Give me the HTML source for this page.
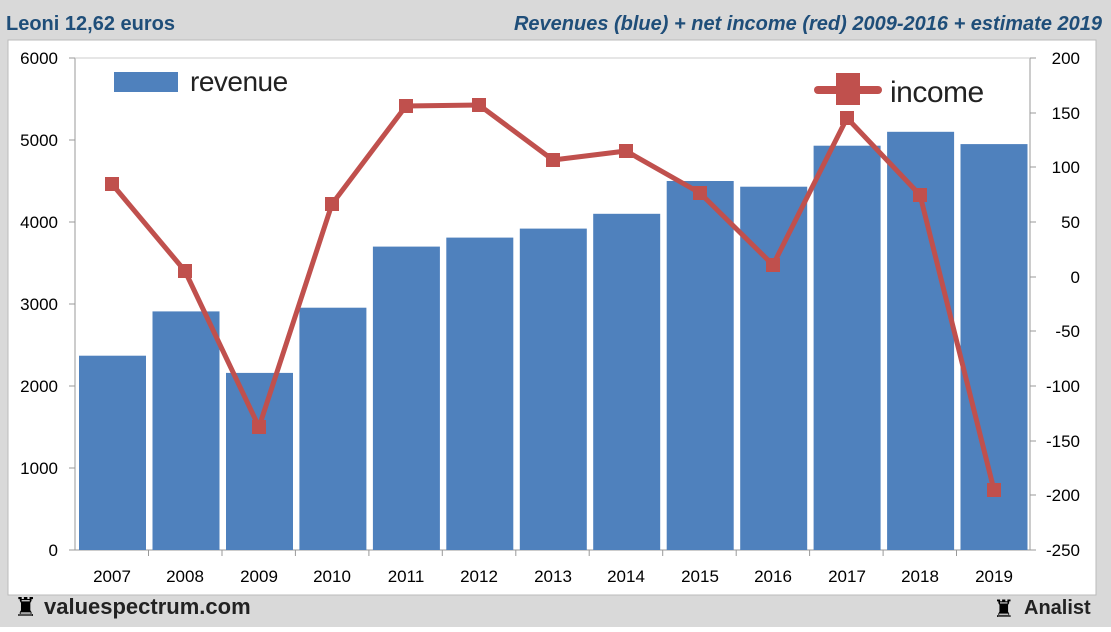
<!DOCTYPE html><html><head><style>body{margin:0;background:#fff}</style></head><body>
<svg width="1111" height="627" xmlns="http://www.w3.org/2000/svg" font-family="Liberation Sans, sans-serif">
<rect width="1111" height="627" fill="#d9d9d9"/>
<rect x="8" y="40" width="1088" height="555" fill="#fff" stroke="#bbb"/>
<text x="6" y="30" font-size="20" font-weight="bold" fill="#1f4e79">Leoni 12,62 euros</text>
<text x="1102" y="30" font-size="20" font-weight="bold" font-style="italic" fill="#1f4e79" text-anchor="end">Revenues (blue) + net income (red) 2009-2016 + estimate 2019</text>
<g stroke="#999" stroke-width="1">
<line x1="75" y1="58" x2="75" y2="550"/><line x1="1030" y1="58" x2="1030" y2="550"/><line x1="75" y1="550" x2="1030" y2="550"/>
<line x1="75" y1="58" x2="1030" y2="58" stroke="#ccc"/>
<line x1="69" y1="58" x2="75" y2="58"/><line x1="69" y1="140" x2="75" y2="140"/><line x1="69" y1="222" x2="75" y2="222"/><line x1="69" y1="304" x2="75" y2="304"/><line x1="69" y1="386" x2="75" y2="386"/><line x1="69" y1="468" x2="75" y2="468"/><line x1="69" y1="550" x2="75" y2="550"/>
<line x1="1030" y1="58" x2="1036" y2="58"/><line x1="1030" y1="113" x2="1036" y2="113"/><line x1="1030" y1="167" x2="1036" y2="167"/><line x1="1030" y1="222" x2="1036" y2="222"/><line x1="1030" y1="277" x2="1036" y2="277"/><line x1="1030" y1="331" x2="1036" y2="331"/><line x1="1030" y1="386" x2="1036" y2="386"/><line x1="1030" y1="441" x2="1036" y2="441"/><line x1="1030" y1="495" x2="1036" y2="495"/><line x1="1030" y1="550" x2="1036" y2="550"/>
</g>
<g font-size="17" fill="#000" text-anchor="end">
<text x="58" y="64">6000</text><text x="58" y="146">5000</text><text x="58" y="228">4000</text><text x="58" y="310">3000</text><text x="58" y="392">2000</text><text x="58" y="474">1000</text><text x="58" y="556">0</text>
</g>
<g font-size="17" fill="#000" text-anchor="end">
<text x="1080" y="64">200</text><text x="1080" y="119">150</text><text x="1080" y="173">100</text><text x="1080" y="228">50</text><text x="1080" y="283">0</text><text x="1080" y="337">-50</text><text x="1080" y="392">-100</text><text x="1080" y="447">-150</text><text x="1080" y="501">-200</text><text x="1080" y="556">-250</text>
</g>
<g fill="#4f81bd">
<rect x="79" y="355.7" width="67" height="194.3"/>
<rect x="152.5" y="311.4" width="67" height="238.6"/>
<rect x="226" y="372.9" width="67" height="177.1"/>
<rect x="299.4" y="307.7" width="67" height="242.3"/>
<rect x="372.9" y="246.6" width="67" height="303.4"/>
<rect x="446.3" y="237.6" width="67" height="312.4"/>
<rect x="519.8" y="228.6" width="67" height="321.4"/>
<rect x="593.2" y="213.8" width="67" height="336.2"/>
<rect x="666.7" y="181" width="67" height="369"/>
<rect x="740.2" y="186.7" width="67" height="363.3"/>
<rect x="813.6" y="145.7" width="67" height="404.3"/>
<rect x="887.1" y="131.8" width="67" height="418.2"/>
<rect x="960.5" y="144.1" width="67" height="405.9"/>
</g>
<g stroke="#999"><line x1="148.5" y1="550" x2="148.5" y2="556"/><line x1="222" y1="550" x2="222" y2="556"/><line x1="295.4" y1="550" x2="295.4" y2="556"/><line x1="368.9" y1="550" x2="368.9" y2="556"/><line x1="442.3" y1="550" x2="442.3" y2="556"/><line x1="515.8" y1="550" x2="515.8" y2="556"/><line x1="589.2" y1="550" x2="589.2" y2="556"/><line x1="662.7" y1="550" x2="662.7" y2="556"/><line x1="736.2" y1="550" x2="736.2" y2="556"/><line x1="809.6" y1="550" x2="809.6" y2="556"/><line x1="883.1" y1="550" x2="883.1" y2="556"/><line x1="956.5" y1="550" x2="956.5" y2="556"/></g>
<g font-size="17" text-anchor="middle">
<text x="112" y="582">2007</text><text x="185" y="582">2008</text><text x="259" y="582">2009</text><text x="332" y="582">2010</text><text x="406" y="582">2011</text><text x="479" y="582">2012</text><text x="553" y="582">2013</text><text x="626" y="582">2014</text><text x="700" y="582">2015</text><text x="773" y="582">2016</text><text x="847" y="582">2017</text><text x="920" y="582">2018</text><text x="994" y="582">2019</text>
</g>
<polyline fill="none" stroke="#c0504d" stroke-width="5" points="112,184 185,271 259,427 332,204 406,106 479,105 553,160 626,151 700,193 773,265 847,118 920,195 994,490"/>
<g fill="#c0504d">
<rect x="105" y="177" width="14" height="14"/><rect x="178" y="264" width="14" height="14"/><rect x="252" y="420" width="14" height="14"/><rect x="325" y="197" width="14" height="14"/><rect x="399" y="99" width="14" height="14"/><rect x="472" y="98" width="14" height="14"/><rect x="546" y="153" width="14" height="14"/><rect x="619" y="144" width="14" height="14"/><rect x="693" y="186" width="14" height="14"/><rect x="766" y="258" width="14" height="14"/><rect x="840" y="111" width="14" height="14"/><rect x="913" y="188" width="14" height="14"/><rect x="987" y="483" width="14" height="14"/>
</g>
<rect x="114" y="72" width="64" height="20" fill="#4f81bd"/>
<text x="190" y="91" font-size="28" fill="#222" letter-spacing="-0.5">revenue</text>
<rect x="814" y="86" width="68" height="8" rx="4" fill="#c0504d"/>
<rect x="836" y="73" width="24" height="32" fill="#c0504d"/>
<text x="890" y="102" font-size="30" fill="#222" letter-spacing="-0.5">income</text>
<text x="14" y="616" font-size="26">♜</text>
<text x="44" y="614" font-size="22" font-weight="bold" fill="#222">valuespectrum.com</text>
<text x="993" y="617" font-size="24">♜</text>
<text x="1024" y="614" font-size="20" font-weight="bold" fill="#222">Analist</text>
</svg>
</body></html>
